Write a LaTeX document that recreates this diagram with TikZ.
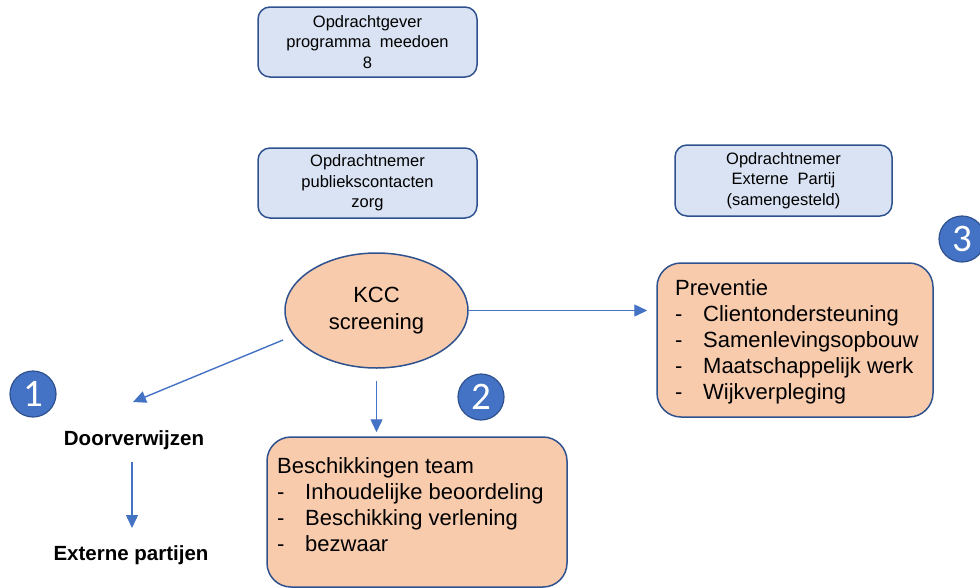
\documentclass[tikz,border=0pt]{standalone}
\usepackage{fontspec}
\setmainfont{Liberation Sans}
\newfontfamily\carlito{Carlito}
\usetikzlibrary{arrows.meta,shapes.geometric,calc}
\definecolor{boxblue}{HTML}{DAE3F3}
\definecolor{boxorange}{HTML}{F8CBAD}
\definecolor{edgeblue}{HTML}{2F528F}
\definecolor{arrblue}{HTML}{4472C4}
\begin{document}
\begin{tikzpicture}[x=1pt,y=-1pt,
  bluebox/.style={draw=edgeblue, line width=1.5pt, fill=boxblue, rounded corners=12pt,
    minimum width=219pt, minimum height=70pt, align=center, inner sep=0pt,
    font=\fontsize{16.5}{20.5}\selectfont},
  orangebox/.style={draw=edgeblue, line width=1.5pt, fill=boxorange, rounded corners=24pt, inner sep=0pt},
  listtext/.style={anchor=north west, align=left, inner sep=0pt, font=\fontsize{22}{26}\selectfont},
  numcircle/.style={circle, draw=edgeblue, line width=1.2pt, fill=arrblue, minimum size=46pt,
    inner sep=0pt, text=white, font=\carlito\fontsize{39}{39}\selectfont},
  plaintext/.style={inner sep=0pt, anchor=base, font=\bfseries\fontsize{20.5}{22}\selectfont},
  arr/.style={draw=arrblue, line width=1.4pt, -{Triangle[length=13pt,width=12pt]}}
]
\useasboundingbox (0,0) rectangle (980,587);

% blue boxes
\node[bluebox] (gever) at (367.5,42) {Opdrachtgever\\programma\ \ meedoen\\8};
\node[bluebox] (nemer) at (367.5,183) {Opdrachtnemer\\publiekscontacten\\zorg};
\node[bluebox, minimum width=217pt, minimum height=71pt] (extern) at (783.5,180.5) {Opdrachtnemer\\Externe\ \ Partij\\(samengesteld)};

% ellipse
\node[ellipse, draw=edgeblue, line width=1.5pt, fill=boxorange, minimum width=183pt, minimum height=115pt,
  inner sep=0pt, align=center, font=\fontsize{22}{27}\selectfont] (kcc) at (376.5,310.5) {KCC\\screening};

% orange boxes
\node[orangebox, minimum width=276pt, minimum height=154pt] (prev) at (795,340) {};
\node[listtext] (prevtext) at (675,279) {Preventie\\
  \makebox[28pt][l]{-}Clientondersteuning\\
  \makebox[28pt][l]{-}Samenlevingsopbouw\\
  \makebox[28pt][l]{-}Maatschappelijk werk\\
  \makebox[28pt][l]{-}Wijkverpleging};

\node[orangebox, minimum width=300pt, minimum height=150pt] (besch) at (417,512) {};
\node[listtext] (beschtext) at (277,457) {Beschikkingen team\\
  \makebox[28pt][l]{-}Inhoudelijke beoordeling\\
  \makebox[28pt][l]{-}Beschikking verlening\\
  \makebox[28pt][l]{-}bezwaar};

% plain texts
\node[plaintext] (doorv) at (134,445) {Doorverwijzen};
\node[plaintext] (ext) at (131,560) {Externe partijen};

% number circles
\node[numcircle] (c1) at (33,394) {1};
\node[numcircle] (c2) at (481,397) {2};
\node[numcircle] (c3) at (962,239) {3};

% connectors
\coordinate (d1s) at (283,340);
\coordinate (d1e) at (133,402);
\draw[arr] (d1s) -- (d1e);
\draw[arr, shorten <=12pt, shorten >=4pt] (kcc.south) -- (kcc.south |- besch.north);
\draw[arr, shorten >=9pt] (kcc.east) -- (kcc.east -| prev.west);
\coordinate (d2s) at (132,462);
\coordinate (d2e) at (132,528);
\draw[arr] (d2s) -- (d2e);
\end{tikzpicture}
\end{document}
